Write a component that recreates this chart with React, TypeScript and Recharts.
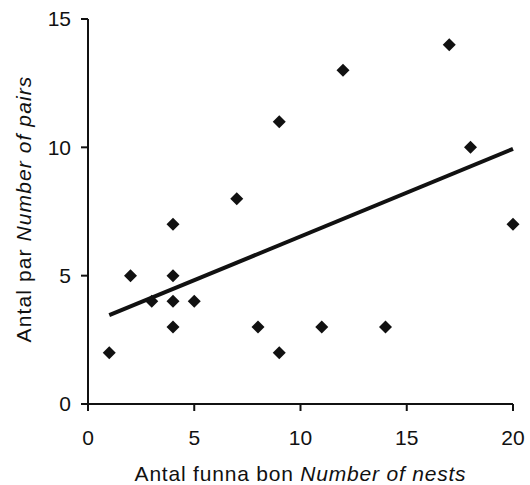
import { Scatter, Line, XAxis, YAxis, ComposedChart } from 'recharts';

const nests = [1, 2, 3, 4, 4, 4, 4, 5, 7, 8, 9, 9, 11, 12, 14, 17, 18, 20];
const pairs = [2, 5, 4, 3, 4, 5, 7, 4, 8, 3, 2, 11, 3, 13, 3, 14, 10, 7];
const xTicks = [0, 5, 10, 15, 20];
const yTicks = [0, 5, 10, 15];
// trend line end points
const trendX = [1, 20];
const trendY = [3.46, 9.94];

const points = nests.map((x, i) => ({ x, y: pairs[i] }));
const trend = trendX.map((x, i) => ({ x, y: trendY[i] }));

const font = 'Arial, "Liberation Sans", sans-serif';

function Diamond(props: any) {
    const { cx, cy } = props;
    const r = 6.5;
    return (
        <polygon
            points={`${cx},${cy - r} ${cx + r},${cy} ${cx},${cy + r} ${cx - r},${cy}`}
            fill="#111"
        />
    );
}

export default function App() {
    return (
        <div style={{ position: 'absolute', left: 0, top: 0, width: 530, height: 485, background: '#fff' }}>
            <ComposedChart
                width={530}
                height={485}
                margin={{ top: 19, right: 17, bottom: 31, left: 28 }}
                style={{ fontFamily: font }}
            >
                <XAxis
                    type="number"
                    dataKey="x"
                    domain={[0, 20]}
                    ticks={xTicks}
                    height={50}
                    stroke="#111"
                    strokeWidth={2}
                    tickSize={7}
                    tickMargin={19}
                    tick={{ fill: '#111', fontSize: 21 }}
                    label={(p: any) => (
                        <text
                            x={p.viewBox.x + p.viewBox.width / 2}
                            y={481}
                            textAnchor="middle"
                            fontSize={21}
                            letterSpacing={0.8}
                            fill="#111"
                            fontFamily={font}
                        >
                            Antal funna bon <tspan fontStyle="italic">Number of nests</tspan>
                        </text>
                    )}
                />
                <YAxis
                    type="number"
                    dataKey="y"
                    domain={[0, 15]}
                    ticks={yTicks}
                    width={60}
                    stroke="#111"
                    strokeWidth={2}
                    tickSize={7}
                    tickMargin={10}
                    tick={{ fill: '#111', fontSize: 21 }}
                    label={() => (
                        <text
                            x={31}
                            y={209}
                            transform="rotate(-90, 31, 209)"
                            textAnchor="middle"
                            fontSize={21}
                            letterSpacing={1.1}
                            fill="#111"
                            fontFamily={font}
                        >
                            Antal par <tspan fontStyle="italic">Number of pairs</tspan>
                        </text>
                    )}
                />
                <Line
                    data={trend}
                    dataKey="y"
                    type="linear"
                    stroke="#111"
                    strokeWidth={4}
                    dot={false}
                    activeDot={false}
                    isAnimationActive={false}
                />
                <Scatter data={points} dataKey="y" shape={<Diamond />} isAnimationActive={false} />
            </ComposedChart>
        </div>
    );
}
